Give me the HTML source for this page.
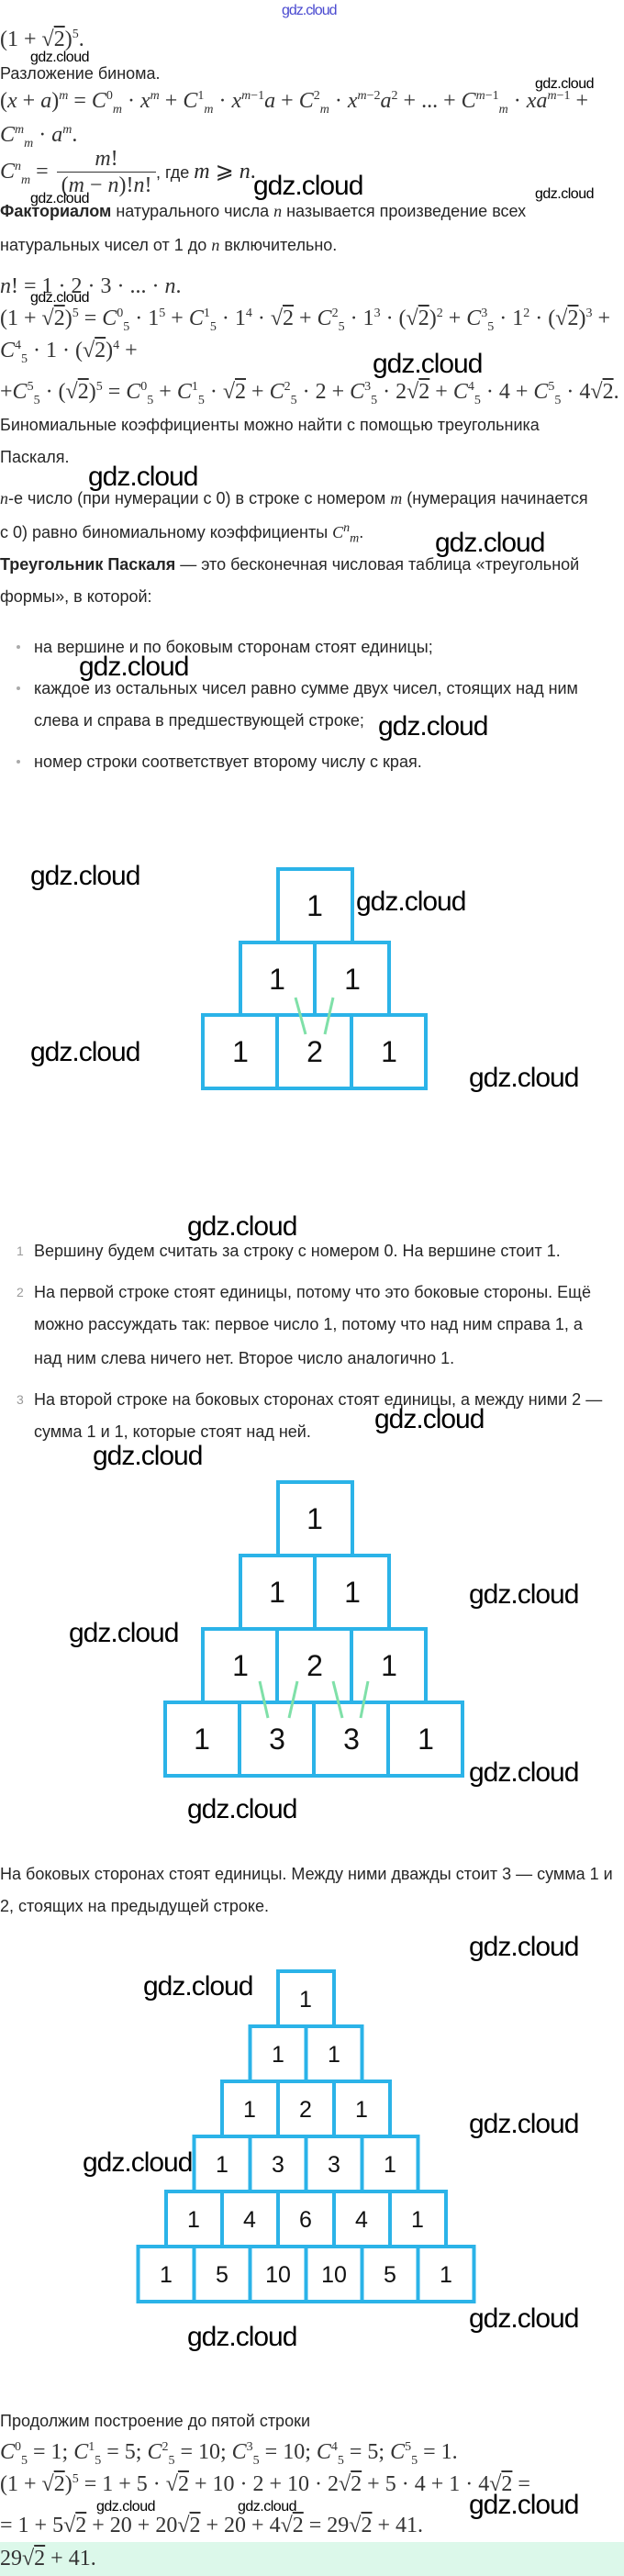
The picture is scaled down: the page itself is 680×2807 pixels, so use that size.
<!DOCTYPE html>
<html><head><meta charset="utf-8">
<style>
body{margin:0;width:680px;height:2807px;position:relative;background:#fff;overflow:hidden;font-family:"Liberation Sans",sans-serif;color:#262626}
.t{position:absolute;white-space:nowrap;font-size:18px;line-height:20px;height:20px}
.m{position:absolute;white-space:nowrap;font-family:"Liberation Serif",serif;font-size:24px;line-height:26px;color:#333}
.m i{font-style:italic}
sup,sub{font-size:14px;line-height:0}
.ov{text-decoration:overline}
.w{position:absolute;white-space:nowrap;font-family:"Liberation Sans",sans-serif;color:#000;letter-spacing:-1px}
.wb{font-size:30px;line-height:34px}
.ws{font-size:16px;line-height:18px;letter-spacing:-0.5px}
.dot{position:absolute;left:18px;width:4px;height:4px;border-radius:2px;background:#aaa}
.num{position:absolute;left:18px;font-size:14px;color:#999;line-height:20px}
</style></head><body>
<svg style="position:absolute;left:0;top:0" width="680" height="2807">
<g fill="none" stroke="#2bb3e8" stroke-width="4">
<rect x="303" y="947" width="81" height="80"/>
<rect x="262" y="1027" width="81" height="79"/><rect x="343" y="1027" width="81" height="79"/>
<rect x="221" y="1106" width="81" height="80"/><rect x="302" y="1106" width="81" height="80"/><rect x="383" y="1106" width="81" height="80"/>
<rect x="303" y="1615" width="81" height="80"/>
<rect x="262" y="1695" width="81" height="80"/><rect x="343" y="1695" width="81" height="80"/>
<rect x="221" y="1775" width="81" height="80"/><rect x="302" y="1775" width="81" height="80"/><rect x="383" y="1775" width="81" height="80"/>
<rect x="180" y="1855" width="81" height="80"/><rect x="261" y="1855" width="81" height="80"/><rect x="342" y="1855" width="81" height="80"/><rect x="423" y="1855" width="81" height="80"/>
<rect x="303" y="2148" width="61" height="60"/>
<rect x="272.5" y="2208" width="61" height="60"/><rect x="333.5" y="2208" width="61" height="60"/>
<rect x="242" y="2268" width="61" height="60"/><rect x="303" y="2268" width="61" height="60"/><rect x="364" y="2268" width="61" height="60"/>
<rect x="211.5" y="2328" width="61" height="60"/><rect x="272.5" y="2328" width="61" height="60"/><rect x="333.5" y="2328" width="61" height="60"/><rect x="394.5" y="2328" width="61" height="60"/>
<rect x="181" y="2388" width="61" height="60"/><rect x="242" y="2388" width="61" height="60"/><rect x="303" y="2388" width="61" height="60"/><rect x="364" y="2388" width="61" height="60"/><rect x="425" y="2388" width="61" height="60"/>
<rect x="150.5" y="2448" width="61" height="60"/><rect x="211.5" y="2448" width="61" height="60"/><rect x="272.5" y="2448" width="61" height="60"/><rect x="333.5" y="2448" width="61" height="60"/><rect x="394.5" y="2448" width="61" height="60"/><rect x="455.5" y="2448" width="61" height="60"/>
</g>
<g stroke="#7fe0a8" stroke-width="3">
<line x1="322" y1="1087" x2="333" y2="1127"/><line x1="363" y1="1087" x2="354" y2="1127"/>
<line x1="283" y1="1832" x2="292" y2="1872"/><line x1="324" y1="1832" x2="315" y2="1872"/>
<line x1="363" y1="1832" x2="373" y2="1872"/><line x1="401" y1="1832" x2="393" y2="1872"/>
</g>
<g font-family="Liberation Sans, sans-serif" font-size="32" fill="#111" text-anchor="middle">
<text x="343" y="998">1</text>
<text x="302" y="1078">1</text><text x="384" y="1078">1</text>
<text x="262" y="1157">1</text><text x="343" y="1157">2</text><text x="424" y="1157">1</text>
<text x="343" y="1666">1</text>
<text x="302" y="1746">1</text><text x="384" y="1746">1</text>
<text x="262" y="1826">1</text><text x="343" y="1826">2</text><text x="424" y="1826">1</text>
<text x="220" y="1906">1</text><text x="302" y="1906">3</text><text x="383" y="1906">3</text><text x="464" y="1906">1</text>
</g>
<g font-family="Liberation Sans, sans-serif" font-size="25" fill="#111" text-anchor="middle">
<text x="333" y="2187">1</text>
<text x="303" y="2247">1</text><text x="364" y="2247">1</text>
<text x="272" y="2307">1</text><text x="333" y="2307">2</text><text x="394" y="2307">1</text>
<text x="242" y="2367">1</text><text x="303" y="2367">3</text><text x="364" y="2367">3</text><text x="425" y="2367">1</text>
<text x="211" y="2427">1</text><text x="272" y="2427">4</text><text x="333" y="2427">6</text><text x="394" y="2427">4</text><text x="455" y="2427">1</text>
<text x="181" y="2487">1</text><text x="242" y="2487">5</text><text x="303" y="2487">10</text><text x="364" y="2487">10</text><text x="425" y="2487">5</text><text x="486" y="2487">1</text>
</g>
<rect x="0" y="2770" width="680" height="37" fill="#dcf8ea"/>
</svg>

<div class="w" style="left:307px;top:3px;font-size:16px;color:#4a4ad0">gdz.cloud</div>

<div class="m" style="left:0;top:30px">(1 + √<span class="ov">2</span>)<sup>5</sup>.</div>
<div class="w ws" style="left:33px;top:54px">gdz.cloud</div>
<div class="t" style="left:0;top:70px">Разложение бинома.</div>
<div class="w ws" style="left:583px;top:83px">gdz.cloud</div>
<div class="m" style="left:0;top:97px">(<i>x</i> + <i>a</i>)<sup><i>m</i></sup> = <i>C</i><sup>0</sup><sub><i>m</i></sub> · <i>x</i><sup><i>m</i></sup> + <i>C</i><sup>1</sup><sub><i>m</i></sub> · <i>x</i><sup><i>m</i>−1</sup><i>a</i> + <i>C</i><sup>2</sup><sub><i>m</i></sub> · <i>x</i><sup><i>m</i>−2</sup><i>a</i><sup>2</sup> + ... + <i>C</i><sup><i>m</i>−1</sup><sub><i>m</i></sub> · <i>xa</i><sup><i>m</i>−1</sup> +</div>
<div class="m" style="left:0;top:134px"><i>C</i><sup><i>m</i></sup><sub><i>m</i></sub> · <i>a</i><sup><i>m</i></sup>.</div>
<div class="m" style="left:0;top:174px"><i>C</i><sup><i>n</i></sup><sub><i>m</i></sub> =</div>
<div class="m" style="left:62px;top:160px;width:108px;text-align:center"><i>m</i>!</div>
<div style="position:absolute;left:62px;top:187px;width:108px;height:1px;background:#333"></div>
<div class="m" style="left:62px;top:189px;width:108px;text-align:center">(<i>m</i> − <i>n</i>)!<i>n</i>!</div>
<div class="t" style="left:170px;top:177px">, где <span style="font-family:'Liberation Serif',serif;font-size:24px"><i>m</i> ⩾ <i>n</i>.</span></div>
<div class="w wb" style="left:276px;top:186px">gdz.cloud</div>
<div class="w ws" style="left:33px;top:208px">gdz.cloud</div>
<div class="w ws" style="left:583px;top:203px">gdz.cloud</div>
<div class="t" style="left:0;top:220px"><b>Факториалом</b> натурального числа <i style="font-family:'Liberation Serif',serif">n</i> называется произведение всех</div>
<div class="t" style="left:0;top:257px">натуральных чисел от 1 до <i style="font-family:'Liberation Serif',serif">n</i> включительно.</div>
<div class="m" style="left:0;top:299px"><i>n</i>! = 1 · 2 · 3 · ... · <i>n</i>.</div>
<div class="w ws" style="left:33px;top:316px">gdz.cloud</div>
<div class="m" style="left:0;top:334px">(1 + √<span class="ov">2</span>)<sup>5</sup> = <i>C</i><sup>0</sup><sub>5</sub> · 1<sup>5</sup> + <i>C</i><sup>1</sup><sub>5</sub> · 1<sup>4</sup> · √<span class="ov">2</span> + <i>C</i><sup>2</sup><sub>5</sub> · 1<sup>3</sup> · (√<span class="ov">2</span>)<sup>2</sup> + <i>C</i><sup>3</sup><sub>5</sub> · 1<sup>2</sup> · (√<span class="ov">2</span>)<sup>3</sup> +</div>
<div class="m" style="left:0;top:369px"><i>C</i><sup>4</sup><sub>5</sub> · 1 · (√<span class="ov">2</span>)<sup>4</sup> +</div>
<div class="w wb" style="left:406px;top:380px">gdz.cloud</div>
<div class="m" style="left:0;top:414px">+<i>C</i><sup>5</sup><sub>5</sub> · (√<span class="ov">2</span>)<sup>5</sup> = <i>C</i><sup>0</sup><sub>5</sub> + <i>C</i><sup>1</sup><sub>5</sub> · √<span class="ov">2</span> + <i>C</i><sup>2</sup><sub>5</sub> · 2 + <i>C</i><sup>3</sup><sub>5</sub> · 2√<span class="ov">2</span> + <i>C</i><sup>4</sup><sub>5</sub> · 4 + <i>C</i><sup>5</sup><sub>5</sub> · 4√<span class="ov">2</span>.</div>

<div class="t" style="left:0;top:453px">Биномиальные коэффициенты можно найти с помощью треугольника</div>
<div class="t" style="left:0;top:488px">Паскаля.</div>
<div class="w wb" style="left:96px;top:503px">gdz.cloud</div>
<div class="t" style="left:0;top:533px"><i style="font-family:'Liberation Serif',serif">n</i>-е число (при нумерации с 0) в строке с номером <i style="font-family:'Liberation Serif',serif">m</i> (нумерация начинается</div>
<div class="t" style="left:0;top:570px">с 0) равно биномиальному коэффициенты <i style="font-family:'Liberation Serif',serif">C<sup>n</sup><sub>m</sub></i>.</div>
<div class="w wb" style="left:474px;top:575px">gdz.cloud</div>
<div class="t" style="left:0;top:605px"><b>Треугольник Паскаля</b> — это бесконечная числовая таблица «треугольной</div>
<div class="t" style="left:0;top:640px">формы», в которой:</div>
<div class="dot" style="top:703px"></div>
<div class="t" style="left:37px;top:695px">на вершине и по боковым сторонам стоят единицы;</div>
<div class="w wb" style="left:86px;top:710px">gdz.cloud</div>
<div class="dot" style="top:748px"></div>
<div class="t" style="left:37px;top:740px">каждое из остальных чисел равно сумме двух чисел, стоящих над ним</div>
<div class="t" style="left:37px;top:775px">слева и справа в предшествующей строке;</div>
<div class="w wb" style="left:412px;top:775px">gdz.cloud</div>
<div class="dot" style="top:828px"></div>
<div class="t" style="left:37px;top:820px">номер строки соответствует второму числу с края.</div>

<div class="w wb" style="left:33px;top:938px">gdz.cloud</div>
<div class="w wb" style="left:388px;top:966px">gdz.cloud</div>
<div class="w wb" style="left:33px;top:1130px">gdz.cloud</div>
<div class="w wb" style="left:511px;top:1158px">gdz.cloud</div>
<div class="w wb" style="left:204px;top:1320px">gdz.cloud</div>

<div class="num" style="top:1353px">1</div>
<div class="t" style="left:37px;top:1353px">Вершину будем считать за строку с номером 0. На вершине стоит 1.</div>
<div class="num" style="top:1398px">2</div>
<div class="t" style="left:37px;top:1398px">На первой строке стоят единицы, потому что это боковые стороны. Ещё</div>
<div class="t" style="left:37px;top:1433px">можно рассуждать так: первое число 1, потому что над ним справа 1, а</div>
<div class="t" style="left:37px;top:1470px">над ним слева ничего нет. Второе число аналогично 1.</div>
<div class="num" style="top:1515px">3</div>
<div class="t" style="left:37px;top:1515px">На второй строке на боковых сторонах стоят единицы, а между ними 2 —</div>
<div class="t" style="left:37px;top:1550px">сумма 1 и 1, которые стоят над ней.</div>
<div class="w wb" style="left:408px;top:1530px">gdz.cloud</div>
<div class="w wb" style="left:101px;top:1570px">gdz.cloud</div>
<div class="w wb" style="left:511px;top:1721px">gdz.cloud</div>
<div class="w wb" style="left:75px;top:1763px">gdz.cloud</div>
<div class="w wb" style="left:511px;top:1915px">gdz.cloud</div>
<div class="w wb" style="left:204px;top:1955px">gdz.cloud</div>

<div class="t" style="left:0;top:2032px">На боковых сторонах стоят единицы. Между ними дважды стоит 3 — сумма 1 и</div>
<div class="t" style="left:0;top:2067px">2, стоящих на предыдущей строке.</div>
<div class="w wb" style="left:511px;top:2105px">gdz.cloud</div>
<div class="w wb" style="left:156px;top:2148px">gdz.cloud</div>
<div class="w wb" style="left:511px;top:2298px">gdz.cloud</div>
<div class="w wb" style="left:90px;top:2340px">gdz.cloud</div>
<div class="w wb" style="left:511px;top:2510px">gdz.cloud</div>
<div class="w wb" style="left:204px;top:2530px">gdz.cloud</div>

<div class="t" style="left:0;top:2628px">Продолжим построение до пятой строки</div>
<div class="m" style="left:0;top:2659px"><i>C</i><sup>0</sup><sub>5</sub> = 1; <i>C</i><sup>1</sup><sub>5</sub> = 5; <i>C</i><sup>2</sup><sub>5</sub> = 10; <i>C</i><sup>3</sup><sub>5</sub> = 10; <i>C</i><sup>4</sup><sub>5</sub> = 5; <i>C</i><sup>5</sup><sub>5</sub> = 1.</div>
<div class="m" style="left:0;top:2694px">(1 + √<span class="ov">2</span>)<sup>5</sup> = 1 + 5 · √<span class="ov">2</span> + 10 · 2 + 10 · 2√<span class="ov">2</span> + 5 · 4 + 1 · 4√<span class="ov">2</span> =</div>
<div class="w ws" style="left:105px;top:2723px">gdz.cloud</div>
<div class="w ws" style="left:259px;top:2723px">gdz.cloud</div>
<div class="w wb" style="left:511px;top:2713px">gdz.cloud</div>
<div class="m" style="left:0;top:2739px">= 1 + 5√<span class="ov">2</span> + 20 + 20√<span class="ov">2</span> + 20 + 4√<span class="ov">2</span> = 29√<span class="ov">2</span> + 41.</div>
<div class="m" style="left:0;top:2775px">29√<span class="ov">2</span> + 41.</div>
</body></html>
